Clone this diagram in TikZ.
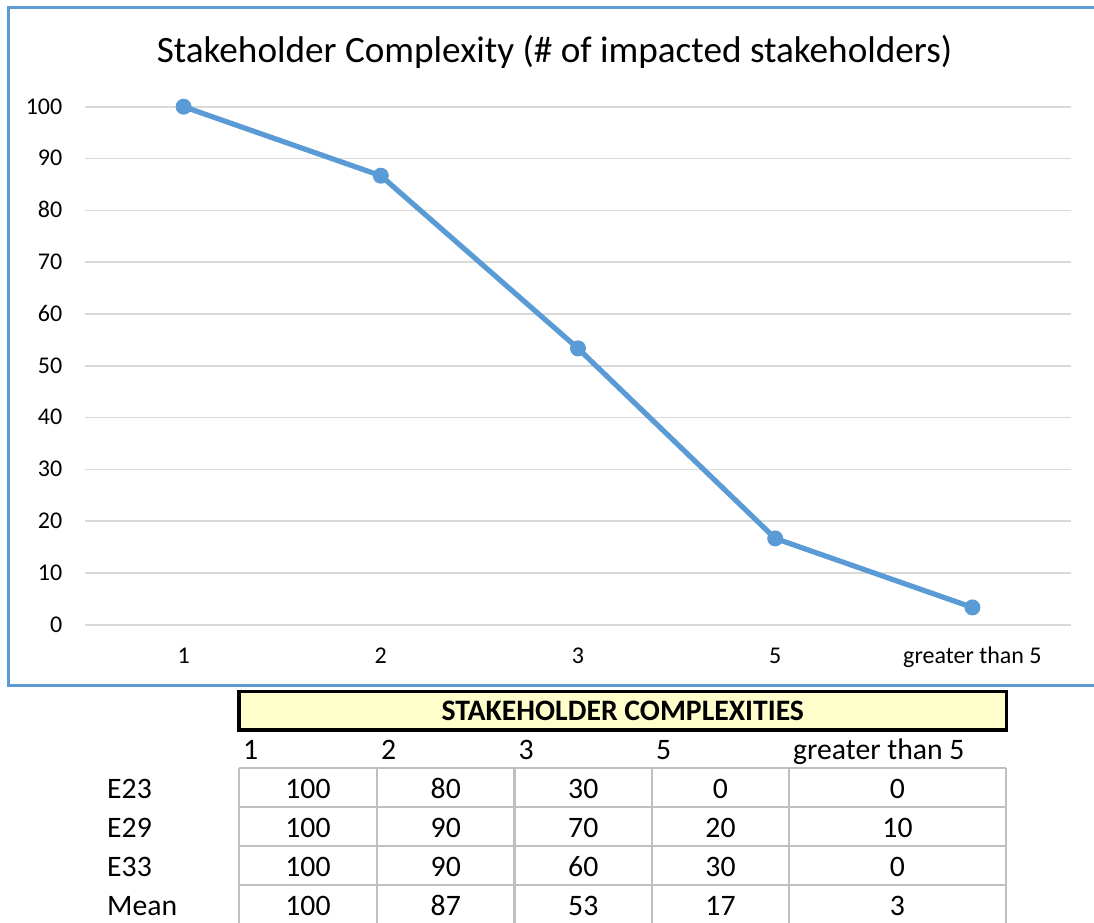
\documentclass[tikz,border=0pt]{standalone}
\usepackage{fontspec}
\setmainfont{Carlito}
\definecolor{chartblue}{HTML}{5B9BD5}
\definecolor{gridgray}{HTML}{D9D9D9}
\definecolor{cellgray}{HTML}{BFBFBF}
\definecolor{headyellow}{HTML}{FFFFCC}
\tikzset{
  frameline/.style={draw=chartblue, line width=3pt},
  gridline/.style={draw=gridgray, line width=1.6pt},
  axislabel/.style={font=\fontsize{24}{28}\selectfont, inner sep=0pt, text=black},
  ylab/.style={axislabel, anchor=base east},
  xlab/.style={axislabel, anchor=base},
  titlelab/.style={font=\fontsize{37.2}{42}\selectfont, inner sep=0pt, anchor=base},
  series/.style={draw=chartblue, line width=5.2pt, line join=round, line cap=round},
  marker/.style={circle, fill=chartblue, inner sep=0pt, minimum size=16pt},
  headbox/.style={draw=black, fill=headyellow, line width=3.3pt, inner sep=0pt,
    font=\fontsize{29.7}{34}\selectfont\bfseries},
  celltext/.style={font=\fontsize{29.7}{34}\selectfont, inner sep=0pt, anchor=base},
  colhead/.style={font=\fontsize{29.7}{34}\selectfont, inner sep=0pt, anchor=base west},
  rowhead/.style={font=\fontsize{29.7}{34}\selectfont, inner sep=0pt, anchor=base west},
  cellline/.style={draw=cellgray, line width=2.7pt},
}
\begin{document}
\begin{tikzpicture}[x=1pt,y=-1pt]
\useasboundingbox (0,0) rectangle (1094,922);
\begin{scope}
\clip (0,0) rectangle (1094,922);
% chart frame
\draw[frameline] (1100,7.7) -- (8.8,7.7) -- (8.8,685) -- (1100,685);
% grid lines and y labels
\foreach \k in {0,...,10}{
  \pgfmathsetmacro{\yy}{624.7-51.8*\k}
  \draw[gridline] (85,\yy) -- (1071,\yy);
  \pgfmathtruncatemacro{\val}{10*\k}
  \node[ylab] (yl\k) at (62.5,\yy+7.3) {\val};
}
% title
\node[titlelab] (title) at (554.5,62.7) {Stakeholder Complexity (\# of impacted stakeholders)};
% x labels
\node[xlab] (xl1) at (183.6,663.3) {1};
\node[xlab] (xl2) at (380.8,663.3) {2};
\node[xlab] (xl3) at (578,663.3) {3};
\node[xlab] (xl4) at (775.2,663.3) {5};
\node[xlab] (xl5) at (972.4,663.3) {greater than 5};
% data
\coordinate (p1) at (183.6,106.7);
\coordinate (p2) at (380.8,175.7);
\coordinate (p3) at (578,348.4);
\coordinate (p4) at (775.2,538.4);
\coordinate (p5) at (972.4,607.4);
\draw[series] (p1) -- (p2) -- (p3) -- (p4) -- (p5);
\foreach \i in {1,...,5}{ \node[marker] (m\i) at (p\i) {}; }
% table header box
\node[headbox, minimum width=767.5pt, minimum height=38.5pt] (hdr) at (622.75,710.75) {STAKEHOLDER COMPLEXITIES};
% column headers
\node[colhead] (c1) at (243,759) {1};
\node[colhead] (c2) at (381,759) {2};
\node[colhead] (c3) at (518.5,759) {3};
\node[colhead] (c4) at (656,759) {5};
\node[colhead] (c5) at (793,759) {greater than 5};
% grid of table
\foreach \yy in {768,807,846,885,924}{ \draw[cellline] (239,\yy) -- (1006,\yy); }
\foreach \xx in {239,377,514.5,652,789,1006}{ \draw[cellline] (\xx,768) -- (\xx,926); }
% row headers
\node[rowhead] (r1) at (107,798) {E23};
\node[rowhead] (r2) at (107,837) {E29};
\node[rowhead] (r3) at (107,876) {E33};
\node[rowhead] (r4) at (107,915) {Mean};
% values
\foreach \row/\yy/\a/\b/\c/\d/\e in {1/798/100/80/30/0/0, 2/837/100/90/70/20/10, 3/876/100/90/60/30/0, 4/915/100/87/53/17/3}{
  \node[celltext] (v\row a) at (308,\yy) {\a};
  \node[celltext] (v\row b) at (445.75,\yy) {\b};
  \node[celltext] (v\row c) at (583.25,\yy) {\c};
  \node[celltext] (v\row d) at (720.5,\yy) {\d};
  \node[celltext] (v\row e) at (897.5,\yy) {\e};
}
\end{scope}
\end{tikzpicture}
\end{document}
